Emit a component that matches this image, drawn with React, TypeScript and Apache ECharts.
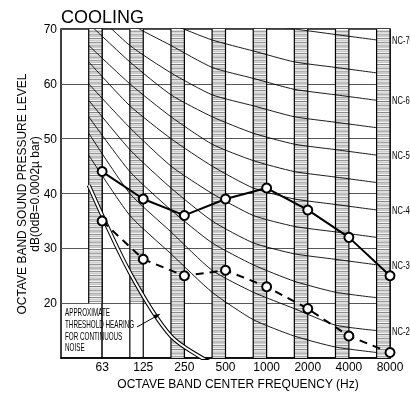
import React, { useEffect, useRef } from 'react';
import * as echarts from 'echarts';

// ---- data ----
const freqLabels = ['63', '125', '250', '500', '1000', '2000', '4000', '8000'];
const yTicks = [10, 20, 30, 40, 50, 60, 70];
const solidUnit = [44, 39, 36, 39, 41, 37, 32, 25];
const dashedUnit = [35, 28, 25, 26, 23, 19, 14, 11];

const ncNames = ['NC-15', 'NC-20', 'NC-25', 'NC-30', 'NC-35', 'NC-40', 'NC-45', 'NC-50', 'NC-55', 'NC-60', 'NC-65', 'NC-70'];
const nc15 = [47, 36, 29, 22, 17, 14, 12, 11];
const nc20 = [51, 40, 33, 26, 22, 19, 16, 15];
const nc25 = [54, 44, 37, 31, 27, 24, 22, 21];
const nc30 = [57, 48, 41, 35, 31, 29, 28, 27];
const nc35 = [60, 52, 45, 40, 36, 34, 33, 32];
const nc40 = [64, 56, 50, 45, 41, 39, 38, 37];
const nc45 = [67, 60, 54, 49, 46, 44, 43, 42];
const nc50 = [71, 64, 58, 54, 51, 49, 48, 47];
const nc55 = [74, 67, 62, 58, 56, 54, 53, 52];
const nc60 = [77, 71, 67, 63, 61, 59, 58, 57];
const nc65 = [80, 75, 71, 68, 66, 64, 63, 62];
const nc70 = [83, 79, 75, 72, 71, 70, 69, 68];
const ncCurves = [nc15, nc20, nc25, nc30, nc35, nc40, nc45, nc50, nc55, nc60, nc65, nc70];
const labeledNC = ['NC-20', 'NC-30', 'NC-40', 'NC-50', 'NC-60', 'NC-70'];

const thresholdHearing = [41.5, 25.6, 14, 9];
const bandBottoms = [20, 10, 10, 10, 10, 10, 10, 10];
const hatchBottoms = [20, 20, 10, 10, 10, 10, 10, 10];

const FONT = '"Liberation Sans", Arial, sans-serif';
const BAND = 0.326;
const Y_MAX = 70;

export default function App() {
  const ref = useRef<HTMLDivElement>(null);
  useEffect(() => {
    if (!ref.current) return;
    const chart = echarts.init(ref.current, undefined, { renderer: 'svg' });

    const bandSeries: any = {
      type: 'custom',
      z: 1,
      silent: true,
      data: freqLabels.map((_, i) => [i, bandBottoms[i], hatchBottoms[i]]),
      encode: { x: 0, y: 1 },
      renderItem: (params: any, api: any) => {
        const i = api.value(0);
        const bottom = api.value(1);
        const hBottom = api.value(2);
        const tl = api.coord([i - BAND, Y_MAX]);
        const br = api.coord([i, bottom]);
        const hb = api.coord([i, hBottom]);
        const children: any[] = [
          { type: 'rect', shape: { x: tl[0], y: tl[1], width: br[0] - tl[0], height: hb[1] - tl[1] }, style: { fill: '#fff', stroke: 'none' } },
        ];
        for (let y = tl[1] + 2.2; y < hb[1] - 0.8; y += 3.7) {
          children.push({ type: 'line', shape: { x1: tl[0], y1: y, x2: br[0], y2: y }, style: { stroke: '#222', lineWidth: 0.6 } });
          if (y + 1.7 < hb[1] - 0.5)
            children.push({ type: 'line', shape: { x1: tl[0], y1: y + 1.7, x2: br[0], y2: y + 1.7 }, style: { stroke: '#c4c4c4', lineWidth: 1.1 } });
        }
        children.push({ type: 'line', shape: { x1: tl[0], y1: tl[1], x2: tl[0], y2: br[1] }, style: { stroke: '#000', lineWidth: 1.2 } });
        children.push({ type: 'line', shape: { x1: br[0], y1: tl[1], x2: br[0], y2: br[1] }, style: { stroke: '#000', lineWidth: 1.2 } });
        return { type: 'group', children };
      },
    };

    const ncSeries: any[] = ncCurves.map((vals, k) => ({
      type: 'line',
      name: ncNames[k],
      z: 2,
      silent: true,
      symbol: 'none',
      smooth: 0.2,
      clip: true,
      lineStyle: { color: '#000', width: 0.9 },
      data: vals.map((v, i) => [i - BAND, v]),
    }));

    const thresholdData = thresholdHearing.map((v, i) => [i - BAND, v]);
    const thresholdSeries: any[] = [
      { type: 'line', z: 3, silent: true, symbol: 'none', smooth: 0.3, clip: true, lineStyle: { color: '#000', width: 4.2 }, data: thresholdData },
      { type: 'line', z: 3, silent: true, symbol: 'none', smooth: 0.3, clip: true, lineStyle: { color: '#fff', width: 2 }, data: thresholdData },
    ];

    const unitSeries: any[] = [
      {
        type: 'line', z: 4, silent: true, symbol: 'emptyCircle', symbolSize: 9,
        lineStyle: { color: '#000', width: 2 },
        itemStyle: { color: '#000', borderColor: '#000', borderWidth: 1.6 },
        data: solidUnit.map((v, i) => [i, v]),
      },
      {
        type: 'line', z: 4, silent: true, symbol: 'emptyCircle', symbolSize: 9,
        lineStyle: { color: '#000', width: 2, type: [8, 6] },
        itemStyle: { color: '#000', borderColor: '#000', borderWidth: 1.6 },
        data: dashedUnit.map((v, i) => [i, v]),
      },
    ];

    const labelSeries: any = {
      type: 'custom',
      z: 5,
      silent: true,
      clip: false,
      data: labeledNC.map((n) => [7, ncCurves[ncNames.indexOf(n)][7]]),
      encode: { x: 0, y: 1 },
      renderItem: (params: any, api: any) => {
        const p = api.coord([api.value(0), api.value(1)]);
        return {
          type: 'text',
          x: p[0] + 2,
          y: p[1] + 0.5,
          scaleX: 0.72,
          style: {
            text: labeledNC[params.dataIndex],
            x: 0, y: 0,
            fill: '#000',
            fontSize: 10.5,
            fontFamily: FONT,
            align: 'left', verticalAlign: 'middle',
            textAlign: 'left', textVerticalAlign: 'middle',
          },
        };
      },
    };

    const thresholdText = ['APPROXIMATE', 'THRESHOLD HEARING', 'FOR CONTINUOUS', 'NOISE'];
    const thresholdY = [312.3, 324, 336, 347.5];

    chart.setOption({
      animation: false,
      grid: { left: 61, right: 20, top: 29, bottom: 35, show: true, borderColor: '#000', borderWidth: 1.5, backgroundColor: 'transparent' },
      xAxis: {
        type: 'value', min: -1, max: 7, interval: 1,
        axisLine: { show: true, lineStyle: { color: '#000', width: 1.5 } },
        axisTick: { show: false },
        splitLine: { show: false },
        axisLabel: {
          color: '#000', fontSize: 12, fontFamily: FONT, margin: 2.5,
          formatter: (v: number) => (v >= 0 && v < freqLabels.length ? freqLabels[v] : ''),
        },
      },
      yAxis: {
        type: 'value', min: yTicks[0], max: yTicks[yTicks.length - 1], interval: 10,
        axisLine: { show: true, lineStyle: { color: '#000', width: 1.5 } },
        axisTick: { show: false },
        splitLine: { show: true, lineStyle: { color: '#555', width: 1.1 } },
        axisLabel: {
          color: '#000', fontSize: 12, fontFamily: FONT, margin: 4,
          formatter: (v: number) => (v === yTicks[0] ? '' : String(v)),
        },
      },
      graphic: [
        { type: 'text', x: 61, y: 17, style: { text: 'COOLING', x: 0, y: 0, fill: '#000', font: '18px ' + FONT, textAlign: 'left', textVerticalAlign: 'middle' } },
        { type: 'text', x: 21.5, y: 194, rotation: Math.PI / 2, style: { text: 'OCTAVE BAND SOUND PRESSURE LEVEL', x: 0, y: 0, fill: '#000', font: '12px ' + FONT, textAlign: 'center', textVerticalAlign: 'middle' } },
        { type: 'text', x: 34.5, y: 194, rotation: Math.PI / 2, style: { text: 'dB(0dB=0.0002µ bar)', x: 0, y: 0, fill: '#000', font: '12px ' + FONT, textAlign: 'center', textVerticalAlign: 'middle' } },
        { type: 'text', x: 238, y: 383.5, style: { text: 'OCTAVE BAND CENTER FREQUENCY (Hz)', x: 0, y: 0, fill: '#000', font: '12px ' + FONT, textAlign: 'center', textVerticalAlign: 'middle' } },
        ...thresholdText.map((t, k) => ({
          type: 'text', x: 65, y: thresholdY[k], scaleX: 0.63, z: 10,
          style: { text: t, x: 0, y: 0, fill: '#000', font: '10px ' + FONT, textAlign: 'left', textVerticalAlign: 'middle' },
        })),
        { type: 'line', z: 10, shape: { x1: 137, y1: 327, x2: 158, y2: 315.2 }, style: { stroke: '#000', lineWidth: 1 } },
        { type: 'polygon', z: 10, shape: { points: [[160.5, 313.8], [155.6, 319.0], [153.4, 315.1]] }, style: { fill: '#000' } },
      ],
      series: [bandSeries, ...ncSeries, ...thresholdSeries, ...unitSeries, labelSeries],
    });
    return () => chart.dispose();
  }, []);
  return <div ref={ref} style={{ position: 'fixed', left: 0, top: 0, width: 410, height: 393 }} />;
}
